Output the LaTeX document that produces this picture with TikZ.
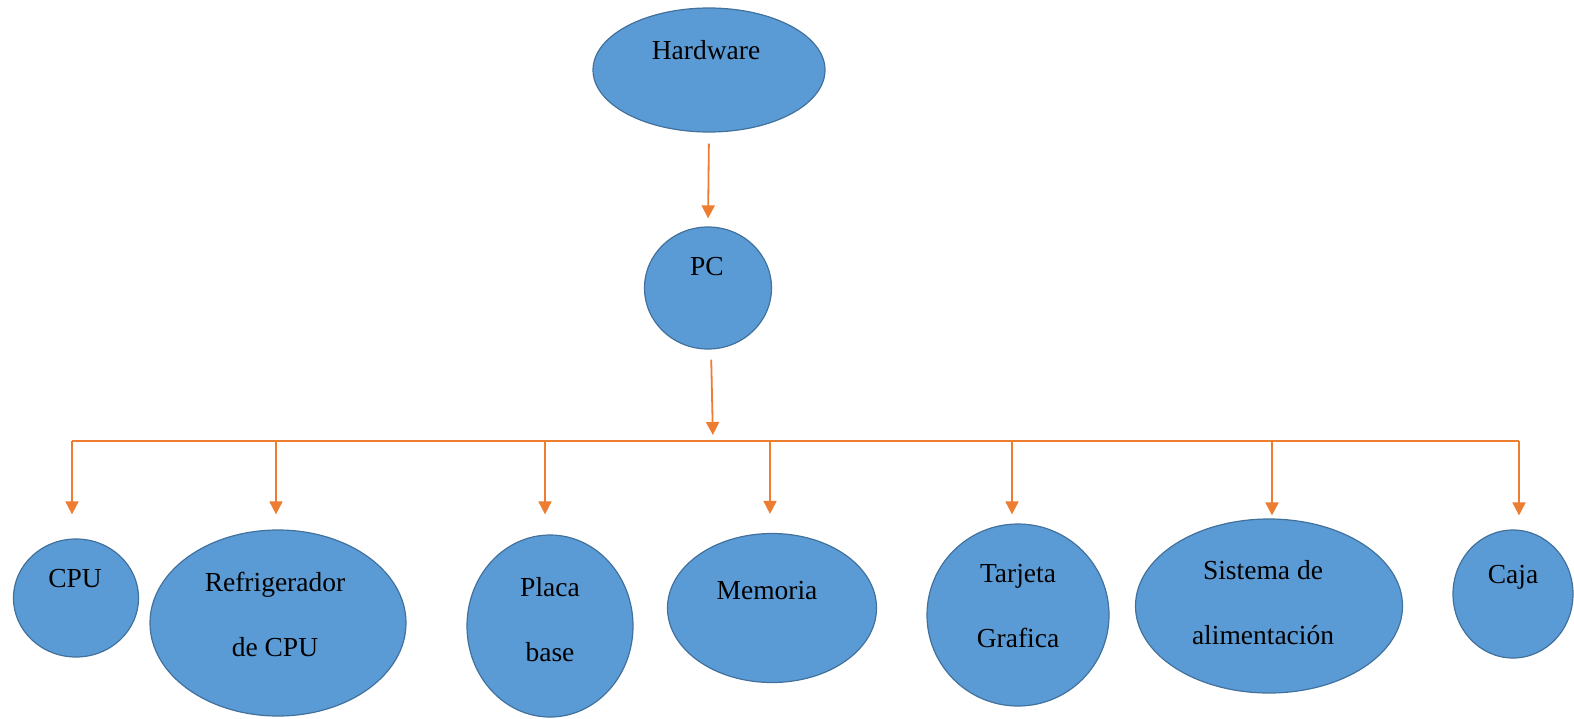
\documentclass[tikz,border=0pt]{standalone}
\usepackage{fontspec}
\setmainfont{Liberation Serif}
\usetikzlibrary{shapes.geometric,arrows.meta}
\definecolor{nodefill}{HTML}{5B9BD5}
\definecolor{nodeline}{HTML}{41719C}
\definecolor{linkcol}{HTML}{ED7D31}
\tikzset{
  blob/.style={ellipse, draw=nodeline, line width=1.2pt, fill=nodefill, inner sep=0pt},
  lbl/.style={inner sep=0pt, align=center, text=black,
    font=\fontsize{27.5}{65}\selectfont},
  arr/.style={draw=linkcol, line width=1.8pt, -{Triangle[width=13pt,length=13pt]}},
  busline/.style={draw=linkcol, line width=1.8pt}
}
\begin{document}
\begin{tikzpicture}[x=1pt,y=-1pt]
\useasboundingbox (0,0) rectangle (1574,718);

% shapes
\node[blob, minimum width=232pt, minimum height=124pt] (hw) at (709,70) {};
\node[blob, minimum width=127pt, minimum height=122pt] (pc) at (708,288) {};
\node[blob, minimum width=125pt, minimum height=118pt] (cpu) at (76,598) {};
\node[blob, minimum width=256pt, minimum height=186pt] (ref) at (278,623) {};
\node[blob, minimum width=166pt, minimum height=182pt] (placa) at (550,626) {};
\node[blob, minimum width=209pt, minimum height=149pt] (mem) at (772,608) {};
\node[blob, minimum width=182pt, minimum height=182pt] (tar) at (1018,615) {};
\node[blob, minimum width=267pt, minimum height=174pt] (sis) at (1269,606) {};
\node[blob, minimum width=120pt, minimum height=128pt] (caja) at (1513,594) {};

% labels
\node[lbl] (thw) at (706,50) {Hardware};
\node[lbl] (tpc) at (707,267) {PC};
\node[lbl] (tcpu) at (75,579) {CPU};
\node[lbl] (tref) at (275,614) {Refrigerador\\de CPU};
\node[lbl] (tplaca) at (550,620) {Placa\\base};
\node[lbl] (tmem) at (767,591) {Memoria};
\node[lbl] (ttar) at (1018,606) {Tarjeta\\Grafica};
\node[lbl] (tsis) at (1263,603) {Sistema de\\alimentación};
\node[lbl] (tcaja) at (1513,577) {Caja};

% distribution bar
\coordinate (bus) at (713,441);
\coordinate (d1) at (72,441);
\coordinate (d2) at (276,441);
\coordinate (d3) at (545,441);
\coordinate (d4) at (770,441);
\coordinate (d5) at (1012,441);
\coordinate (d6) at (1272,441);
\coordinate (d7) at (1519,441);
\draw[busline] (d1) -- (d7);

% connectors
\draw[arr, shorten <=11pt, shorten >=8pt] (hw.south) -- (pc.north);
\draw[arr, shorten <=10pt, shorten >=6pt] ([xshift=3pt]pc.south) -- (bus);
\draw[arr, shorten >=24pt] (d1) -- (d1 |- cpu.north);
\draw[arr, shorten >=15pt] (d2) -- (d2 |- ref.north);
\draw[arr, shorten >=20pt] (d3) -- (d3 |- placa.north);
\draw[arr, shorten >=19pt] (d4) -- (d4 |- mem.north);
\draw[arr, shorten >=9pt] (d5) -- (d5 |- tar.north);
\draw[arr, shorten >=3pt] (d6) -- (d6 |- sis.north);
\draw[arr, shorten >=14pt] (d7) -- (d7 |- caja.north);
\end{tikzpicture}
\end{document}
